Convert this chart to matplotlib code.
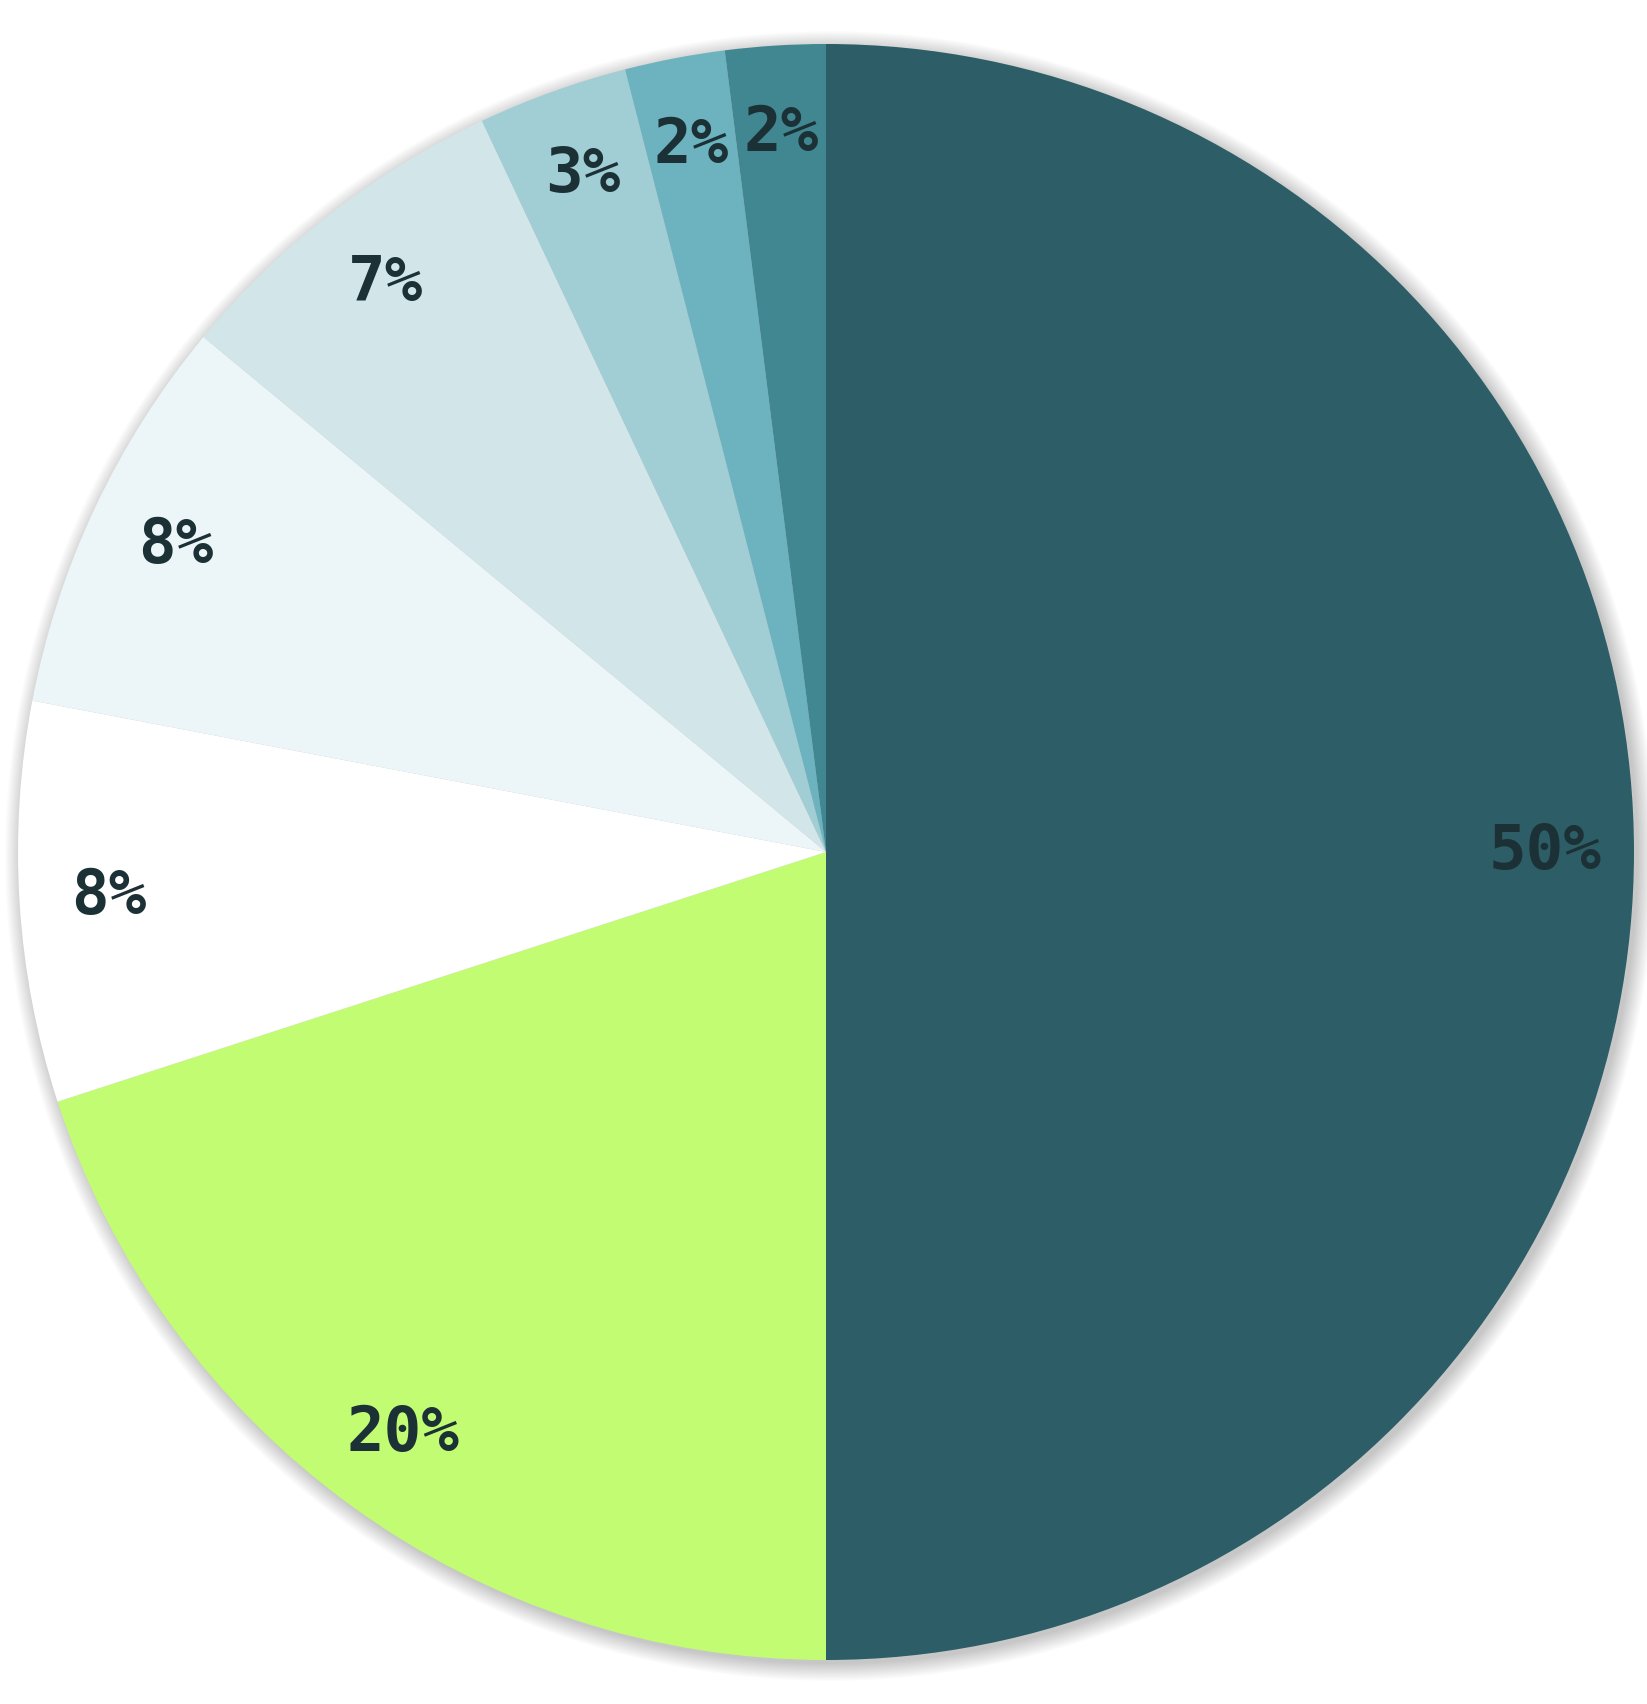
import matplotlib
matplotlib.use('Agg')
import matplotlib.pyplot as plt
from matplotlib.patches import Circle
import numpy as np

# slices, clockwise from 12 o'clock
shares = [50, 20, 8, 8, 7, 3, 2, 2]
labels = ['50%', '20%', '8%', '8%', '7%', '3%', '2%', '2%']
colors = ['#2d5d66', '#c2fc72', '#ffffff', '#ecf5f7',
          '#d2e6ea', '#a1cdd5', '#6db2bf', '#408792']

W, H = 1647, 1704
CX, CY, R = 826, 852, 808   # pixels, from top-left

fig = plt.figure(figsize=(W / 100, H / 100), dpi=100)
ax = fig.add_axes([(CX - R) / W, (H - CY - R) / H, 2 * R / W, 2 * R / H])

# soft drop shadow
for i in range(14):
    ax.add_patch(Circle((0.005, -0.005), 1.0 + 0.0016 * i, color='black',
                        alpha=0.016, lw=0, zorder=0, clip_on=False))

wedges, _ = ax.pie(shares, colors=colors, startangle=90, counterclock=False,
                   radius=1.0, wedgeprops=dict(linewidth=0))
for w in wedges:
    w.set_zorder(2)
    w.set_clip_on(False)

ax.set_xlim(-1, 1)
ax.set_ylim(-1, 1)
ax.set_aspect('equal')
ax.axis('off')

start = 90.0
for s, lab in zip(shares, labels):
    mid = np.deg2rad(start - s * 3.6 / 2)
    start -= s * 3.6
    ax.text(0.89 * np.cos(mid), 0.89 * np.sin(mid), lab,
            ha='center', va='center', fontsize=45, fontweight='bold',
            family='DejaVu Sans Mono', color='#1b3136', zorder=5)

fig.savefig('out.png', dpi=100, facecolor='white')
